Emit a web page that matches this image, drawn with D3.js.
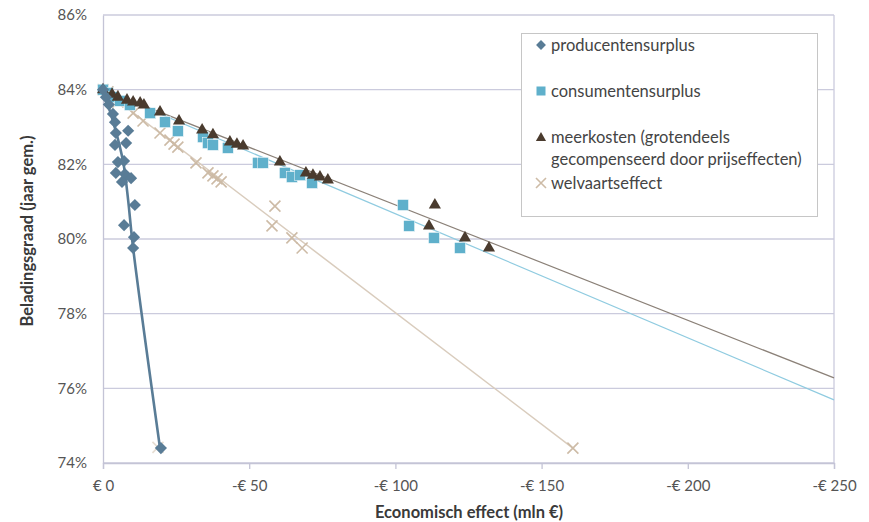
<!DOCTYPE html>
<html>
<head>
<meta charset="utf-8">
<script src="https://cdn.jsdelivr.net/npm/d3@7"></script>
<style>
  body { margin: 0; background: #fff; }
  text { font-family: Lato, "Open Sans", sans-serif; }
</style>
</head>
<body>
<div id="chart"></div>
<script>
// values: x = economic effect (mln euro, shown as -€), y = load factor (%)
const producenten = [
  [0, 84.0], [1.0, 83.8], [2.0, 83.6], [3.4, 83.35], [4.1, 83.13], [4.4, 82.84], [8.6, 82.9],
  [4.1, 82.52], [7.9, 82.57], [5.1, 82.06], [7.2, 82.09], [4.4, 81.77], [7.5, 81.74],
  [9.6, 81.63], [6.5, 81.53], [10.9, 80.91], [7.2, 80.37], [10.6, 80.05], [10.3, 79.76], [19.8, 74.4]
]
const consumenten = [
  [0, 84.0], [1.7, 83.91], [3.4, 83.8], [5.8, 83.7], [9.2, 83.59], [16.1, 83.37], [21.2, 83.13],
  [25.6, 82.89], [34.2, 82.73], [35.9, 82.57], [37.6, 82.52], [42.7, 82.44], [53.0, 82.04],
  [54.7, 82.04], [62.2, 81.77], [64.6, 81.66], [67.4, 81.71], [71.5, 81.5], [102.6, 80.91],
  [104.7, 80.35], [113.2, 80.03], [122.1, 79.76]
]
const meerkosten = [
  [0, 84.0], [3.1, 83.88], [5.1, 83.8], [8.2, 83.72], [10.3, 83.67], [12.7, 83.64], [14.0, 83.59],
  [19.5, 83.4], [26.0, 83.16], [33.9, 82.92], [37.6, 82.79], [43.4, 82.6], [45.8, 82.54],
  [47.9, 82.49], [60.5, 82.06], [69.4, 81.77], [71.8, 81.71], [74.2, 81.66], [76.9, 81.58],
  [111.5, 80.35], [113.5, 80.91], [123.8, 80.03], [132.0, 79.76]
]
const welvaart = [
  [0, 84.0], [1.7, 83.94], [3.4, 83.83], [5.1, 83.67], [10.3, 83.37], [13.7, 83.16], [19.5, 82.84],
  [22.9, 82.65], [24.3, 82.54], [25.6, 82.46], [31.8, 82.04], [35.9, 81.77], [37.6, 81.69],
  [39.0, 81.61], [40.4, 81.53], [58.8, 80.88], [57.8, 80.35], [64.6, 80.03], [68.1, 79.76],
  [18.8, 74.42], [160.7, 74.4]
]

// trend lines
const producentenLijn = [[0, 84.0], [1.7, 83.59], [3.8, 83.05], [5.8, 82.46], [7.2, 81.93], [8.6, 81.04], [10.3, 79.76], [19.5, 74.4]]
const consumentenLijn = [[0, 84.0], [250, 75.69]]
const meerkostenLijn = [[0, 84.0], [250, 76.28]]
const welvaartLijn = [[0, 84.0], [160.7, 74.4]]

const xTicks = [0, 50, 100, 150, 200, 250]
const yTicks = [74, 76, 78, 80, 82, 84, 86]

const legendLabels = [
  ["producentensurplus"],
  ["consumentensurplus"],
  ["meerkosten (grotendeels", "gecompenseerd door prijseffecten)"],
  ["welvaartseffect"]
]

const kleuren = {
  producenten: "#597c96",
  consumenten: "#5fb0cb",
  meerkosten: "#4a3b2e",
  welvaart: "#cdbba6"
}

const width = 869
const height = 522
const margin = {top: 15, right: 35, bottom: 59, left: 103}
const w = width - margin.left - margin.right
const h = height - margin.top - margin.bottom

const svg = d3.select("#chart").append("svg")
  .attr("width", width)
  .attr("height", height)

const g = svg.append("g")
  .attr("transform", "translate(" + margin.left + "," + margin.top + ")")

const x = d3.scaleLinear().domain([0, 250]).range([0, w])
const y = d3.scaleLinear().domain([74, 86]).range([h, 0])

// gridlines
g.append("g")
  .selectAll("line")
  .data(yTicks)
  .enter()
  .append("line")
  .attr("x1", 0)
  .attr("x2", w)
  .attr("y1", d => y(d))
  .attr("y2", d => y(d))
  .style("stroke", "#cbcbdd")
  .style("stroke-width", 1.3)

// right border
g.append("line")
  .attr("x1", w).attr("x2", w)
  .attr("y1", 0).attr("y2", h)
  .style("stroke", "#cbcbdd")
  .style("stroke-width", 1.3)

// x axis
const xAxis = g.append("g")
  .attr("transform", "translate(0," + h + ")")
  .call(d3.axisBottom(x)
    .tickValues(xTicks)
    .tickSize(6)
    .tickPadding(11)
    .tickFormat(d => d === 0 ? "€ 0" : "-€ " + d))
xAxis.select(".domain").style("stroke", "#c4c4d6").style("stroke-width", 1.3)
xAxis.selectAll(".tick line").style("stroke", "#c4c4d6").style("stroke-width", 1.3)
xAxis.selectAll("text")
  .style("font-size", "15px")
  .style("fill", "#555")

// y axis
const yAxis = g.append("g")
  .call(d3.axisLeft(y)
    .tickValues(yTicks)
    .tickSize(0)
    .tickPadding(16)
    .tickFormat(d => d + "%"))
yAxis.select(".domain").style("stroke", "#c4c4d6").style("stroke-width", 1.3)
yAxis.selectAll("text")
  .style("font-size", "15px")
  .style("fill", "#555")

// axis titles
svg.append("text")
  .attr("x", 469)
  .attr("y", 518)
  .attr("text-anchor", "middle")
  .style("font-size", "16.5px")
  .style("font-weight", "bold")
  .style("fill", "#3a3a3a")
  .text("Economisch effect (mln €)")

svg.append("text")
  .attr("transform", "translate(33,231) rotate(-90)")
  .attr("text-anchor", "middle")
  .style("font-size", "16.5px")
  .style("font-weight", "bold")
  .style("fill", "#3a3a3a")
  .text("Beladingsgraad (jaar gem.)")

// lines
const line = d3.line().x(d => x(d[0])).y(d => y(d[1]))

g.append("path")
  .attr("d", line(welvaartLijn))
  .style("fill", "none")
  .style("stroke", "#d9ccbd")
  .style("stroke-width", 1.5)

g.append("path")
  .attr("d", line(consumentenLijn))
  .style("fill", "none")
  .style("stroke", "#8fcbe0")
  .style("stroke-width", 1.2)

g.append("path")
  .attr("d", line(meerkostenLijn))
  .style("fill", "none")
  .style("stroke", "#8b8178")
  .style("stroke-width", 1.2)

// markers
function drawX(sel, cx, cy, r, color, op) {
  sel.append("path")
    .attr("d", "M" + (cx - r) + "," + (cy - r) + "L" + (cx + r) + "," + (cy + r) +
      "M" + (cx - r) + "," + (cy + r) + "L" + (cx + r) + "," + (cy - r))
    .style("stroke", color)
    .style("stroke-width", 1.6)
    .style("opacity", op || 1)
    .style("fill", "none")
}

const welvaartG = g.append("g")
welvaart.forEach(d => drawX(welvaartG, x(d[0]), y(d[1]), 5.5, kleuren.welvaart, d[0] < 30 && d[1] < 76 ? 0.5 : 1))

g.append("g")
  .selectAll("rect")
  .data(consumenten)
  .enter()
  .append("rect")
  .attr("x", d => x(d[0]) - 5.5)
  .attr("y", d => y(d[1]) - 5.5)
  .attr("width", 11)
  .attr("height", 11)
  .style("fill", kleuren.consumenten)
  .style("stroke", "#fff")
  .style("stroke-width", 0.5)

const tri = d3.symbol().type(d3.symbolTriangle).size(64)
g.append("g")
  .selectAll("path")
  .data(meerkosten)
  .enter()
  .append("path")
  .attr("d", tri)
  .attr("transform", d => "translate(" + x(d[0]) + "," + y(d[1]) + ")")
  .style("fill", kleuren.meerkosten)

g.append("path")
  .attr("d", d3.line().curve(d3.curveCatmullRom).x(d => x(d[0])).y(d => y(d[1]))(producentenLijn))
  .style("fill", "none")
  .style("stroke", kleuren.producenten)
  .style("stroke-width", 2.6)

g.append("g")
  .selectAll("rect")
  .data(producenten)
  .enter()
  .append("rect")
  .attr("x", -4.3)
  .attr("y", -4.3)
  .attr("width", 8.6)
  .attr("height", 8.6)
  .attr("transform", d => "translate(" + x(d[0]) + "," + y(d[1]) + ") rotate(45)")
  .style("fill", kleuren.producenten)

// legend
const legend = svg.append("g")
legend.append("rect")
  .attr("x", 521.5)
  .attr("y", 33.5)
  .attr("width", 296)
  .attr("height", 183)
  .style("fill", "#fff")
  .style("stroke", "#c6c6c6")
  .style("stroke-width", 1)

const legendY = [45, 91, 137, 183]
legendLabels.forEach((lines, i) => {
  const ly = legendY[i]
  if (i === 0) {
    legend.append("rect").attr("x", -3.5).attr("y", -3.5).attr("width", 7).attr("height", 7)
      .attr("transform", "translate(541," + ly + ") rotate(45)")
      .style("fill", kleuren.producenten)
  } else if (i === 1) {
    legend.append("rect").attr("x", 536.5).attr("y", ly - 4.5).attr("width", 9).attr("height", 9)
      .style("fill", kleuren.consumenten)
  } else if (i === 2) {
    legend.append("path").attr("d", d3.symbol().type(d3.symbolTriangle).size(45))
      .attr("transform", "translate(541," + (ly + 1) + ")")
      .style("fill", kleuren.meerkosten)
  } else {
    drawX(legend, 541, ly, 5, kleuren.welvaart)
  }
  lines.forEach((t, j) => {
    legend.append("text")
      .attr("x", 551)
      .attr("y", ly + j * 22)
      .attr("dy", "0.35em")
      .style("font-size", "16.5px")
      .style("fill", "#444")
      .text(t)
  })
})
</script>
</body>
</html>
